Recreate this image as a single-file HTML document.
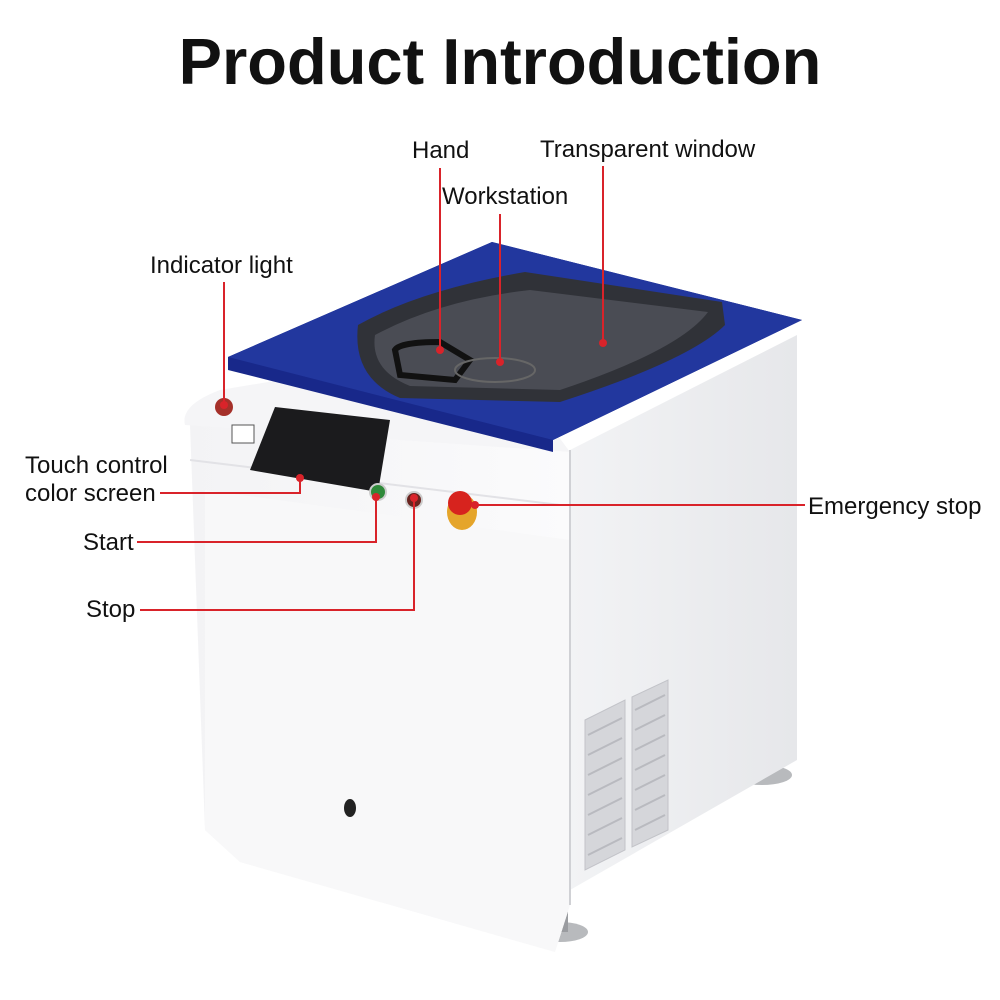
<!DOCTYPE html>
<html><head><meta charset="utf-8"><style>
html,body{margin:0;padding:0;background:#fff;width:1000px;height:1000px;overflow:hidden}
svg{display:block}
text{font-family:"Liberation Sans",sans-serif;fill:#111}
</style></head><body>
<svg width="1000" height="1000" viewBox="0 0 1000 1000">
<defs>
<linearGradient id="fr" x1="0" x2="1"><stop offset="0" stop-color="#f3f3f5"/><stop offset="1" stop-color="#fbfbfc"/></linearGradient>
<linearGradient id="rt" x1="0" x2="1"><stop offset="0" stop-color="#f2f3f5"/><stop offset="1" stop-color="#e6e7ea"/></linearGradient>
</defs>
<text x="500" y="84" text-anchor="middle" font-size="65" font-weight="bold">Product Introduction</text>

<!-- feet -->
<ellipse cx="762" cy="775" rx="30" ry="10" fill="#b8babd"/>
<rect x="755" y="740" width="14" height="35" fill="#9a9ca0"/>
<ellipse cx="560" cy="932" rx="28" ry="10" fill="#b8babd"/>
<rect x="552" y="890" width="16" height="42" fill="#9a9ca0"/>
<ellipse cx="712" cy="782" rx="25" ry="8" fill="#777"/>

<!-- right face -->
<polygon points="570,450 797,335 797,760 570,890" fill="url(#rt)"/>
<!-- front face -->
<polygon points="190,425 570,452 570,905 555,952 240,862 205,830" fill="url(#fr)"/>
<polygon points="205,490 570,540 570,905 555,952 240,862 205,830" fill="#f8f8f9"/>
<!-- control panel slope -->
<path d="M185,425 Q180,405 220,390 L490,345 L570,452 Z" fill="#f5f5f7"/>
<path d="M190,460 L560,505" stroke="#e2e2e6" stroke-width="2"/>
<line x1="570" y1="450" x2="570" y2="905" stroke="#d0d1d5" stroke-width="2"/>

<!-- vents -->
<g fill="#d5d6da" stroke="#c2c3c8">
<polygon points="585,720 625,700 625,850 585,870"/>
<polygon points="632,697 668,680 668,830 632,847"/>
</g>
<g stroke="#b9babf" stroke-width="2">
<line x1="588" y1="735" x2="622" y2="718"/><line x1="588" y1="755" x2="622" y2="738"/><line x1="588" y1="775" x2="622" y2="758"/><line x1="588" y1="795" x2="622" y2="778"/><line x1="588" y1="815" x2="622" y2="798"/><line x1="588" y1="835" x2="622" y2="818"/><line x1="588" y1="855" x2="622" y2="838"/>
<line x1="635" y1="710" x2="665" y2="695"/><line x1="635" y1="730" x2="665" y2="715"/><line x1="635" y1="750" x2="665" y2="735"/><line x1="635" y1="770" x2="665" y2="755"/><line x1="635" y1="790" x2="665" y2="775"/><line x1="635" y1="810" x2="665" y2="795"/><line x1="635" y1="830" x2="665" y2="815"/>
</g>
<ellipse cx="350" cy="808" rx="6" ry="9" fill="#222"/>

<!-- lid -->
<polygon points="228,357 492,242 802,320 553,440 553,452 228,370" fill="#18288a"/>
<polygon points="228,357 492,242 802,320 553,440" fill="#22379e"/>
<!-- window -->
<path d="M358,325 Q420,290 525,272 L722,302 L725,325 Q690,360 560,402 L400,398 Q352,378 358,325 Z" fill="#303238"/>
<path d="M375,335 Q440,300 530,290 L708,312 Q680,350 560,390 L410,386 Q370,370 375,335 Z" fill="#4a4c54"/>
<path d="M395,350 Q400,342 440,342 L470,360 L455,380 L400,375 Z" fill="none" stroke="#111" stroke-width="6"/>
<ellipse cx="495" cy="370" rx="40" ry="12" fill="none" stroke="#666" stroke-width="2"/>

<!-- panel items -->
<rect x="232" y="425" width="22" height="18" fill="#fff" stroke="#555"/>
<polygon points="275,407 390,420 378,492 250,470" fill="#1b1b1d"/>
<circle cx="224" cy="407" r="9" fill="#a5302a"/>
<circle cx="378" cy="492" r="8" fill="#2f8a3a" stroke="#ccc" stroke-width="2"/>
<circle cx="414" cy="500" r="8" fill="#6a2420" stroke="#ccc" stroke-width="2"/>
<ellipse cx="462" cy="512" rx="15" ry="18" fill="#e5a52b"/>
<circle cx="460" cy="503" r="12" fill="#d7231e"/>

<!-- callouts -->
<g stroke="#d9232a" stroke-width="2" fill="none">
<polyline points="440,168 440,350"/>
<polyline points="500,214 500,362"/>
<polyline points="603,166 603,343"/>
<polyline points="224,282 224,405"/>
<polyline points="160,493 300,493 300,478"/>
<polyline points="137,542 376,542 376,497"/>
<polyline points="140,610 414,610 414,498"/>
<polyline points="475,505 805,505"/>
</g>
<g fill="#d9232a">
<circle cx="440" cy="350" r="4"/><circle cx="500" cy="362" r="4"/><circle cx="603" cy="343" r="4"/>
<circle cx="224" cy="405" r="4"/><circle cx="300" cy="478" r="4"/><circle cx="376" cy="497" r="4"/>
<circle cx="414" cy="498" r="4"/><circle cx="475" cy="505" r="4"/>
</g>
<g font-size="24">
<text x="412" y="158">Hand</text>
<text x="442" y="204">Workstation</text>
<text x="540" y="157">Transparent window</text>
<text x="150" y="273">Indicator light</text>
<text x="25" y="473">Touch control</text>
<text x="25" y="501">color screen</text>
<text x="83" y="550">Start</text>
<text x="86" y="617">Stop</text>
<text x="808" y="514">Emergency stop</text>
</g>
</svg>
</body></html>
